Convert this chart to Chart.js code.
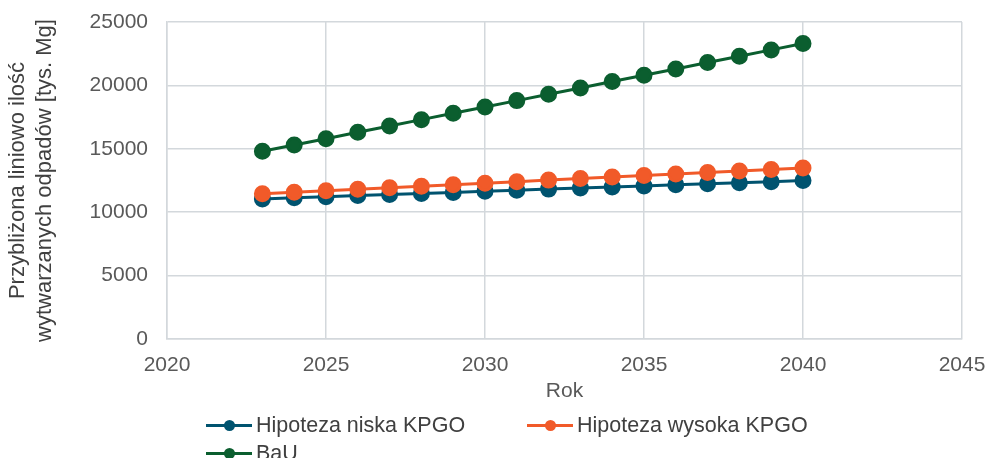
<!DOCTYPE html>
<html lang="pl">
<head>
    <meta charset="UTF-8">
    <title>Prognoza odpadów</title>
    <script src="https://cdn.jsdelivr.net/npm/chart.js"></script>
    <style>
        body { margin: 0; background: #fff; }
        .wrap { position: relative; width: 989px; height: 458px; }
        .legend {
            position: absolute; left: 206px; top: 412px;
            font-family: 'Liberation Sans', Arial, sans-serif; font-size: 21.5px; color: #404040;
            display: grid; grid-template-columns: 321px 320px; row-gap: 2px;
        }
        .item { display: flex; align-items: center; height: 26px; white-space: nowrap; }
        .mark { position: relative; width: 46px; height: 3px; margin-right: 4px; }
        .mark i { position: absolute; left: 18px; top: -4px; width: 11px; height: 11px; border-radius: 50%; }
    </style>
</head>
<body>
    <div class="wrap">
        <canvas id="chart" width="989" height="458"></canvas>
        <div class="legend" id="legend"></div>
    </div>

    <script>
        const years = [2023, 2024, 2025, 2026, 2027, 2028, 2029, 2030, 2031, 2032, 2033, 2034, 2035, 2036, 2037, 2038, 2039, 2040];
        const niska = [11050, 11140, 11220, 11310, 11390, 11480, 11560, 11650, 11730, 11820, 11900, 11990, 12070, 12160, 12240, 12330, 12410, 12500];
        const wysoka = [11450, 11570, 11690, 11810, 11930, 12050, 12170, 12290, 12410, 12530, 12650, 12770, 12890, 13010, 13130, 13250, 13370, 13490];
        const bau = [14800, 15300, 15800, 16300, 16800, 17300, 17800, 18300, 18800, 19300, 19800, 20300, 20800, 21300, 21800, 22300, 22800, 23300];

        const seriesNames = ['Hipoteza niska KPGO', 'Hipoteza wysoka KPGO', 'BaU'];
        const seriesColors = ['#00536f', '#f15a29', '#0b5e2f'];
        const seriesData = [niska, wysoka, bau];

        const font = "'Liberation Sans', Arial, sans-serif";
        const textColor = '#595959';
        const gridColor = '#d3d8dc';

        // datasets drawn in order so that BaU ends on top like the original
        const datasets = seriesData.map((vals, i) => ({
            label: seriesNames[i],
            data: years.map((y, j) => ({ x: y, y: vals[j] })),
            borderColor: seriesColors[i],
            backgroundColor: seriesColors[i],
            borderWidth: 3,
            pointRadius: 7,
            pointHoverRadius: 7,
            tension: 0
        })).reverse();

        new Chart(document.getElementById('chart'), {
            type: 'line',
            data: { datasets: datasets },
            options: {
                responsive: false,
                animation: false,
                layout: { padding: { top: 22, right: 27, bottom: 54, left: 0 } },
                plugins: {
                    legend: { display: false },
                    tooltip: { enabled: false }
                },
                scales: {
                    x: {
                        type: 'linear',
                        min: 2020, max: 2045,
                        ticks: { stepSize: 5, color: textColor, font: { family: font, size: 21 }, padding: 14, callback: v => String(v) },
                        grid: { color: gridColor, lineWidth: 1.5, drawTicks: false },
                        border: { color: gridColor, width: 1.5 },
                        title: { display: true, text: 'Rok', color: textColor, font: { family: font, size: 21 }, padding: { top: 0, bottom: 0 } },
                        afterFit: s => { s.height = 65; s.paddingLeft = 0; s.paddingRight = 0; }
                    },
                    y: {
                        min: 0, max: 25000,
                        ticks: { stepSize: 5000, color: textColor, font: { family: font, size: 21 }, padding: 19, callback: v => String(v) },
                        grid: { color: gridColor, lineWidth: 1.5, drawTicks: false },
                        border: { color: gridColor, width: 1.5 },
                        title: {
                            display: true,
                            text: ['Przybliżona liniowo ilość', 'wytwarzanych odpadów [tys. Mg]'],
                            color: '#404040', font: { family: font, size: 22, lineHeight: 1.23 }, padding: { top: 4, bottom: 0 }
                        },
                        afterFit: s => { s.width = 167; s.paddingTop = 0; s.paddingBottom = 0; }
                    }
                }
            }
        });

        // legend laid out like the original: two items on row one, BaU below
        const legend = document.getElementById('legend');
        seriesNames.forEach((name, i) => {
            const item = document.createElement('div');
            item.className = 'item';
            item.innerHTML = '<span class="mark" style="background:' + seriesColors[i] + '"><i style="background:' + seriesColors[i] + '"></i></span>' + name;
            legend.appendChild(item);
        });
    </script>
</body>
</html>
